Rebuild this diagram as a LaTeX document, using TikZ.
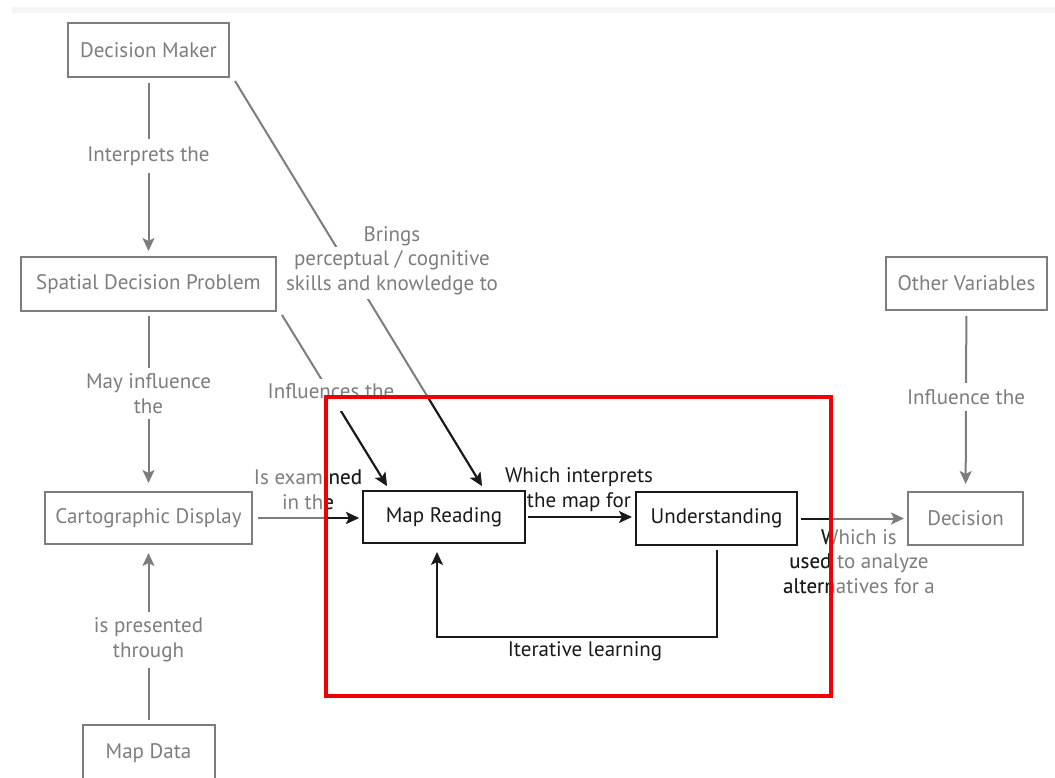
\documentclass[tikz,border=0pt]{standalone}
\usepackage{fontspec}
\setmainfont{PT Sans}
\usepackage{tikz}
\usetikzlibrary{arrows.meta,positioning,calc}

\definecolor{fadegray}{RGB}{125,125,125}
\definecolor{inkblack}{RGB}{25,25,25}
\definecolor{framered}{RGB}{240,0,0}
\newcommand{\diafont}{\fontsize{21}{24.5}\selectfont}

\tikzset{
  gline/.style={color=fadegray},
  bline/.style={color=inkblack},
  link/.style={line width=2pt},
  conbox/.style={draw, line width=2pt, inner sep=0pt, font=\diafont},
  lbl/.style={font=\diafont, inner sep=2pt, align=center},
}

% the connectors and labels that cross the red frame
\newcommand{\crossparts}[1]{%
  \draw[link, #1, ->] ($(dm.south east)+(5,3)$) -- ($(mr.north)+(38,-4)$);
  \node[lbl, #1, fill=white, inner ysep=4pt] (lblBrA) at (392,236) {Brings};
  \node[lbl, #1, fill=white, inner ysep=4pt] (lblBrB) at (392,260.5) {perceptual / cognitive};
  \node[lbl, #1, fill=white, inner ysep=4pt] (lblBrC) at (392,285) {skills and knowledge to};
  \draw[link, #1, ->] ($(sdp.south east)+(5,3)$) -- ($(mr.north)+(-57,-4)$);
  \node[lbl, #1, fill=white, inner ysep=5pt, text depth=8pt] (lblInfl) at (331,395) {Influences the};
  \draw[link, #1, ->, shorten <=5pt, shorten >=3pt] (cd.east) -- (cd.east -| mr.west);
  \node[lbl, #1] (lblExam) at (308,489.5) {Is examined\\in the};
  \draw[link, #1, ->, shorten <=3pt, shorten >=3pt] (us.east) -- (us.east -| dec.west);
  \node[lbl, #1, inner sep=0pt] (lblUsed) at (859,561.5) {Which is\\used to analyze\\alternatives for a};
}

\begin{document}
\begin{tikzpicture}[x=1pt, y=-1pt, >={Stealth[length=13pt,width=12pt,inset=3pt]}]
  \useasboundingbox (0,0) rectangle (1055,778);
  % faint strip along the top edge
  \fill[black!4] (12,7) rectangle (1055,13);

  % Boxes outside the frame
  \node[conbox, gline, minimum width=161pt, minimum height=54pt] (dm) at (148.5,50) {Decision Maker};
  \node[conbox, gline, minimum width=255pt, minimum height=54pt] (sdp) at (148.5,284) {Spatial Decision Problem};
  \node[conbox, gline, minimum width=207pt, minimum height=52pt] (cd) at (148.5,518) {Cartographic Display};
  \node[conbox, gline, minimum width=132pt, minimum height=56pt] (md) at (148.5,753) {Map Data};
  \node[conbox, gline, minimum width=161pt, minimum height=53pt] (ov) at (966.5,283.5) {Other Variables};
  \node[conbox, gline, minimum width=115pt, minimum height=53pt] (dec) at (965.5,518.5) {Decision};

  % Boxes inside the frame
  \node[conbox, bline, minimum width=162pt, minimum height=52pt] (mr) at (444,517) {Map Reading};
  \node[conbox, bline, minimum width=161pt, minimum height=53pt] (us) at (716.5,518.5) {Understanding};

  % Grey links on the left and right
  \draw[link, gline, ->, shorten <=5pt, shorten >=5pt] (dm) -- (sdp);
  \node[lbl, gline, fill=white, inner ysep=8pt] (lblInterp) at (148.5,156) {Interprets the};
  \draw[link, gline, ->, shorten <=4pt, shorten >=8pt] (sdp) -- (cd);
  \node[lbl, gline, fill=white, inner ysep=6pt] (lblMay) at (148.5,393.5) {May influence\\the};
  \draw[link, gline, ->, shorten <=4pt, shorten >=8pt] (md) -- (cd);
  \node[lbl, gline, fill=white, inner ysep=6pt] (lblPres) at (148.5,640) {is presented\\through};
  \draw[link, gline, ->, shorten <=5pt, shorten >=7pt] (ov) -- (dec);
  \node[lbl, gline, fill=white, inner ysep=6pt] (lblInflu) at (966,397) {Influence the};

  % Crossing parts: grey everywhere, then black inside the frame
  \crossparts{gline}
  \begin{scope}
    \clip (326,397) rectangle (831,696);
    \crossparts{bline}
  \end{scope}

  % Links inside the frame
  \draw[link, bline, ->, shorten <=2pt, shorten >=3pt] (mr.east) -- (mr.east -| us.west);
  \node[lbl, bline] (lblWhich) at (579,489.5) {Which interprets\\the map for};
  \draw[link, bline, ->] ($(us.south)+(0,4)$) -- ++(0,87) -| ($(mr.south)+(-7,8)$);
  \node[lbl, bline] (lblIter) at (585,651) {Iterative learning};

  % Red frame
  \draw[framered, line width=4pt] (326,397) rectangle (831,696);
\end{tikzpicture}
\end{document}
